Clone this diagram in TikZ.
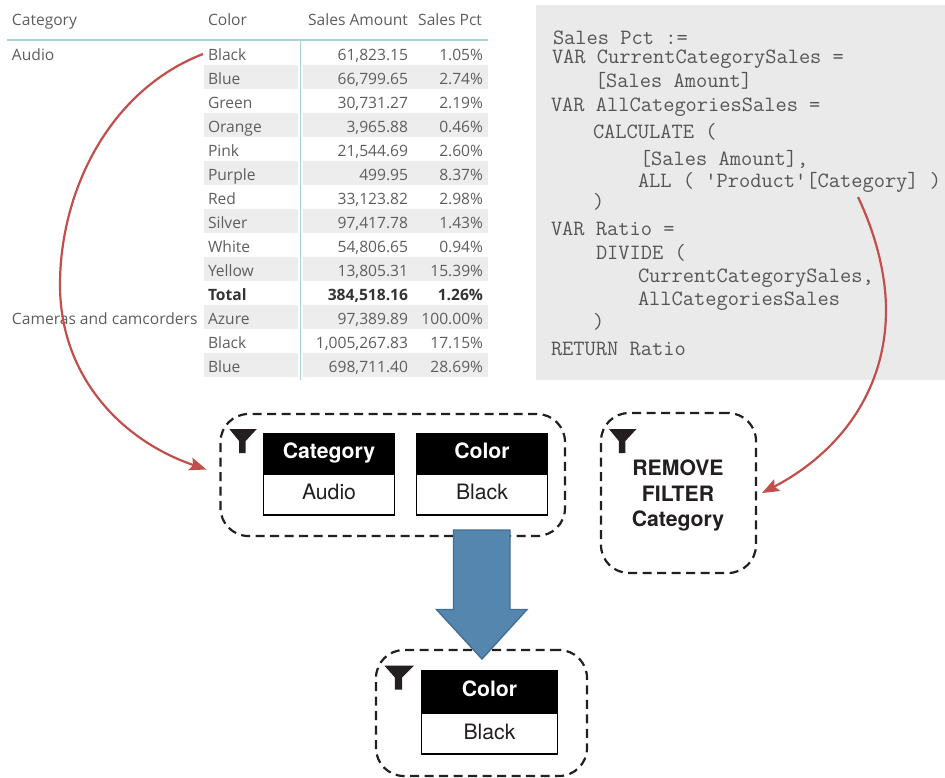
\documentclass[tikz,border=0pt]{standalone}
\usepackage{fontspec}
\usetikzlibrary{arrows.meta}
\newfontfamily\heros{TeX Gyre Heros}
\newfontfamily\opens{Open Sans}
\definecolor{tabtext}{HTML}{5E5E5E}
\definecolor{band}{HTML}{EDEDED}
\definecolor{teal}{HTML}{A6D5CF}
\definecolor{codebg}{HTML}{EAEAEA}
\definecolor{codetext}{HTML}{555555}
\definecolor{redline}{HTML}{C14F4C}
\definecolor{bluefill}{HTML}{5587AE}
\definecolor{blueedge}{HTML}{436F92}
\definecolor{ink}{HTML}{231F20}
\tikzset{
  x=1pt,y=-1pt,
  cellbase/.style={inner sep=0pt,outer sep=0pt,text=tabtext,font=\opens\fontsize{15.6}{18}\selectfont},
  cellL/.style={cellbase,anchor=base west},
  cellR/.style={cellbase,anchor=base east},
  cellLb/.style={cellL,font=\opens\bfseries\fontsize{15.6}{18}\selectfont,text=black!80},
  cellRb/.style={cellR,font=\opens\bfseries\fontsize{15.6}{18}\selectfont,text=black!80},
  code/.style={inner sep=0pt,outer sep=0pt,anchor=base west,text=codetext,font=\ttfamily\fontsize{21.8}{24}\selectfont},
  dbox/.style={draw=ink,line width=2.2pt,dash pattern=on 9pt off 5.5pt,rounded corners=28pt,anchor=north west,inner sep=0pt,outer sep=0pt},
  redarrow/.style={draw=redline,line width=2.2pt,-{Stealth[length=17pt,width=13pt,inset=3pt]}},
  headbox/.style={fill=black,text=white,anchor=north west,inner sep=0pt,outer sep=0pt,text height=15pt,text depth=6pt,font=\heros\bfseries\fontsize{21.2}{24}\selectfont},
  valbox/.style={draw=black,line width=1.2pt,fill=white,text=ink,anchor=north west,inner sep=0pt,outer sep=0pt,text height=15pt,text depth=6pt,font=\heros\fontsize{21.2}{24}\selectfont},
  pics/filter/.style={code={\fill[ink] (0,0) -- (27.5,0) -- (16.4,12) -- (16.4,24) -- (9.8,24) -- (9.8,12) -- cycle;}},
}
\begin{document}
\begin{tikzpicture}
\useasboundingbox (0,0) rectangle (945,777);
\fill[white] (0,0) rectangle (945,777);
% table bands
\foreach \t in {65,113,161,209,257,305,353}
  \fill[band] (204,\t) rectangle (488,\t+24);
\fill[white] (298,40) rectangle (303,380);
\draw[teal,line width=1.2pt] (7,40) -- (488,40);
\draw[teal,line width=1.2pt] (300.5,40) -- (300.5,380);
% header
\node[cellL] (hcat) at (12,25) {Category};
\node[cellL] (hcol) at (208,25) {Color};
\node[cellR] (hamt) at (408,25) {Sales Amount};
\node[cellR] (hpct) at (482,25) {Sales Pct};
% row labels
\node[cellL] (audio) at (12,60) {Audio};
\node[cellL] (cams) at (12,324) {Cameras and camcorders};
% rows
\foreach \i/\c/\a/\p in {1/Black/{61,823.15}/{1.05\%},2/Blue/{66,799.65}/{2.74\%},3/Green/{30,731.27}/{2.19\%},4/Orange/{3,965.88}/{0.46\%},5/Pink/{21,544.69}/{2.60\%},6/Purple/{499.95}/{8.37\%},7/Red/{33,123.82}/{2.98\%},8/Silver/{97,417.78}/{1.43\%},9/White/{54,806.65}/{0.94\%},10/Yellow/{13,805.31}/{15.39\%},12/Azure/{97,389.89}/{100.00\%},13/Black/{1,005,267.83}/{17.15\%},14/Blue/{698,711.40}/{28.69\%}}{
  \pgfmathsetmacro{\yy}{36+24*\i}
  \node[cellL] (col\i) at (208,\yy) {\c};
  \node[cellR] (amt\i) at (408,\yy) {\a};
  \node[cellR] (pct\i) at (483,\yy) {\p};
}
\node[cellLb] (col11) at (208,300) {Total};
\node[cellRb] (amt11) at (408,300) {384,518.16};
\node[cellRb] (pct11) at (483,300) {1.26\%};
% code
\fill[codebg] (536,5) rectangle (945,380);
\node[code] (l1) at (553,44) {Sales Pct :=};
\node[code] (l2) at (552,63) {VAR CurrentCategorySales =};
\node[code] (l3) at (595,87) {[Sales Amount]};
\node[code] (l4) at (551,111) {VAR AllCategoriesSales =};
\node[code] (l5) at (593,138) {CALCULATE (};
\node[code] (l6) at (640,165) {[Sales Amount],};
\node[code] (l7) at (638,187) {ALL ( 'Product'[Category] )};
\node[code] (l8) at (593,208) {)};
\node[code] (l9) at (551,235) {VAR Ratio =};
\node[code] (l10) at (596,259) {DIVIDE (};
\node[code] (l11) at (638,282) {CurrentCategorySales,};
\node[code] (l12) at (638,305) {AllCategoriesSales};
\node[code] (l13) at (593,328) {)};
\node[code] (l14) at (551,355) {RETURN Ratio};
% filter boxes
\node[dbox,minimum width=344.5pt,minimum height=122pt] (f1) at (220.5,414) {};
\node[dbox,minimum width=155pt,minimum height=160pt] (f2) at (601,413) {};
\node[dbox,minimum width=211pt,minimum height=126pt] (f3) at (376,650) {};
\pic at (229.3,429) {filter};
\pic at (609,429) {filter};
\pic[xscale=1.08] at (384.3,665.5) {filter};
% filter tables
\node[valbox,minimum width=131pt,minimum height=41pt] (v1) at (263.5,474) {Audio};
\node[headbox,minimum width=132pt,minimum height=41pt] (h1) at (263,433) {Category};
\node[valbox,minimum width=131pt,minimum height=41pt] (v2) at (416.5,474) {Black};
\node[headbox,minimum width=132pt,minimum height=41pt] (h2) at (416,433) {Color};
\node[valbox,minimum width=136pt,minimum height=41pt,text height=16pt,text depth=5pt] (v3) at (421.5,713) {Black};
\node[headbox,minimum width=137pt,minimum height=43pt] (h3) at (421,670) {Color};
\node[inner sep=0pt,text=ink,align=center,font=\heros\bfseries\fontsize{21.2}{25.5}\selectfont] (rm) at (678,495.5) {REMOVE\\FILTER\\Category};
% blue arrow
\draw[fill=bluefill,draw=blueedge,line width=1.4pt,line join=miter]
  (453.5,530) -- (510,530) -- (510,609.5) -- (527,609.5) -- (482,659) -- (436.5,609.5) -- (453.5,609.5) -- cycle;
% red connectors
\coordinate (sa) at (203,54);
\coordinate (ea) at (206.5,469.5);
\coordinate (sb) at (858,197);
\coordinate (eb) at (762,493);
\draw[redarrow] (sa) .. controls (110,90) and (60,190) .. (60,285) .. controls (60,375) and (120,440) .. (ea);
\draw[redarrow] (sb) .. controls (876,235) and (886,275) .. (886,310) .. controls (886,395) and (835,455) .. (eb);
\end{tikzpicture}
\end{document}
